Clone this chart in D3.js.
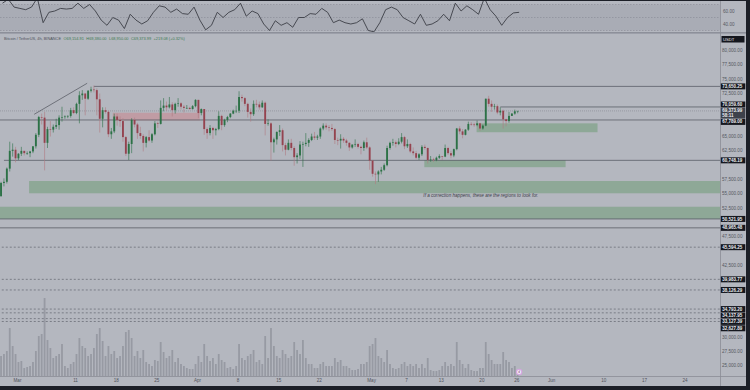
<!DOCTYPE html>
<html>
<head>
<meta charset="utf-8">
<title>Bitcoin / TetherUS 4h</title>
<style>
  body { margin: 0; background: #1c1f27; }
  svg { display: block; font-family: "Liberation Sans", Arial, sans-serif; }
</style>
</head>
<body>
<svg id="chart" width="750" height="390"></svg>
<script src="https://cdn.jsdelivr.net/npm/d3@7"></script>
<script>
// ---- data (prices in thousands USDT) ----
var candleStart = "2024-02-27T00:00:00Z";   // 12h candles
var candles = [
  [54.5,57.0,54.4,56.8],[56.8,57.6,56.2,57.0],
  [57.0,59.5,56.7,59.3],[59.3,64.0,58.8,62.4],
  [62.4,63.7,61.4,62.6],[62.6,63.1,60.4,61.1],
  [61.1,62.0,60.8,61.9],[61.9,63.1,61.5,62.4],
  [62.4,62.4,61.6,62.0],[62.0,62.3,61.7,62.0],
  [62.0,62.4,61.3,62.3],[62.3,63.2,62.0,63.2],
  [63.2,65.5,62.8,65.2],[65.2,68.5,64.8,68.3],
  [68.3,68.9,67.0,68.2],[68.2,69.2,59.0,63.8],
  [63.8,66.6,62.9,66.2],[66.2,67.6,64.9,66.1],
  [66.1,67.0,65.6,66.6],[66.6,68.0,66.2,66.9],
  [66.9,68.6,66.1,68.2],[68.2,70.1,67.5,68.3],
  [68.3,68.6,68.0,68.4],[68.4,68.6,68.1,68.5],
  [68.5,69.9,68.2,69.5],[69.5,70.0,68.8,69.0],
  [69.0,70.8,68.8,70.6],[70.6,72.8,67.2,72.1],
  [72.1,73.0,71.3,72.4],[72.4,72.5,68.6,71.5],
  [71.5,73.0,71.3,72.9],[72.9,73.6,72.6,73.1],
  [73.1,73.8,72.6,73.0],[73.0,73.3,68.6,71.4],
  [71.4,72.4,65.6,68.0],[68.0,70.0,66.5,69.5],
  [69.5,70.0,68.9,69.2],[69.2,69.4,64.8,65.3],
  [65.3,66.4,64.5,65.8],[65.8,68.9,65.5,68.4],
  [68.4,68.9,66.8,67.8],[67.8,68.4,66.6,67.6],
  [67.6,68.1,64.0,64.8],[64.8,65.0,61.5,61.9],
  [61.9,64.0,60.8,63.6],[63.6,68.1,62.0,67.8],
  [67.8,68.2,66.5,67.0],[67.0,67.3,64.5,65.5],
  [65.5,66.6,64.5,65.0],[65.0,65.3,62.3,63.8],
  [63.8,65.0,63.0,64.8],[64.8,66.0,64.0,64.2],
  [64.2,65.5,63.8,65.3],[65.3,67.6,65.1,67.2],
  [67.2,67.5,66.4,67.1],[67.1,71.2,67.0,69.9],
  [69.9,71.6,69.3,70.3],[70.3,71.0,69.4,70.0],
  [70.0,71.8,69.8,70.5],[70.5,70.9,68.4,69.5],
  [69.5,70.8,68.9,70.6],[70.6,71.6,70.1,70.7],
  [70.7,70.9,69.6,70.1],[70.1,70.4,69.1,69.9],
  [69.9,70.4,69.7,69.9],[69.9,70.1,69.6,69.7],
  [69.7,70.4,69.6,70.2],[70.2,71.4,70.0,71.3],
  [71.3,71.3,68.1,69.0],[69.0,69.8,68.6,69.7],
  [69.7,69.7,65.2,66.2],[66.2,66.5,64.5,65.5],
  [65.5,66.9,65.1,66.4],[66.4,66.6,64.5,66.0],
  [66.0,66.4,65.1,66.2],[66.2,69.3,66.0,68.5],
  [68.5,68.7,66.0,66.9],[66.9,68.0,66.6,67.8],
  [67.8,68.5,67.4,68.3],[68.3,69.0,68.1,68.9],
  [68.9,69.6,68.8,69.4],[69.4,70.3,69.0,69.4],
  [69.4,72.8,69.0,71.8],[71.8,72.2,71.0,71.6],
  [71.6,71.8,70.2,70.6],[70.6,70.8,68.2,69.2],
  [69.2,69.8,67.5,68.8],[68.8,71.2,68.5,70.6],
  [70.6,71.3,70.0,70.5],[70.5,71.0,69.6,70.0],
  [70.0,71.2,69.9,70.8],[70.8,71.0,65.1,67.1],
  [67.1,67.9,66.8,67.2],[67.2,67.4,60.7,63.9],
  [63.9,64.7,62.1,64.4],[64.4,65.8,63.5,65.7],
  [65.7,66.9,65.0,66.0],[66.0,66.3,62.3,63.4],
  [63.4,63.8,61.6,62.6],[62.6,64.4,62.5,63.8],
  [63.8,64.5,62.5,62.9],[62.9,63.2,59.8,61.3],
  [61.3,62.0,60.2,61.6],[61.6,64.1,61.0,63.5],
  [63.5,64.0,59.6,63.6],[63.6,65.5,63.2,63.8],
  [63.8,64.6,63.1,64.3],[64.3,65.4,64.1,64.9],
  [64.9,65.7,64.3,64.7],[64.7,65.2,64.3,64.9],
  [64.9,66.5,64.5,66.3],[66.3,67.2,66.0,66.8],
  [66.8,67.2,66.1,66.5],[66.5,66.9,65.8,66.4],
  [66.4,67.1,65.9,66.2],[66.2,66.4,63.6,64.3],
  [64.3,64.7,63.4,64.2],[64.2,65.3,62.8,64.5],
  [64.5,64.8,63.8,64.2],[64.2,64.5,63.3,63.8],
  [63.8,63.9,62.4,63.0],[63.0,63.5,62.8,63.5],
  [63.5,64.4,63.1,63.6],[63.6,63.8,62.8,63.1],
  [63.1,63.3,61.8,62.9],[62.9,64.2,62.4,63.9],
  [63.9,64.7,62.7,63.0],[63.0,63.2,59.1,60.7],
  [60.7,60.8,57.9,58.4],[58.4,58.8,56.6,58.3],
  [58.3,59.0,57.0,58.8],[58.8,59.6,58.3,59.1],
  [59.1,60.2,58.9,59.9],[59.9,63.3,59.7,62.9],
  [62.9,64.0,62.6,63.8],[63.8,64.5,63.3,63.9],
  [63.9,64.2,63.0,63.6],[63.6,64.6,63.4,64.0],
  [64.0,65.5,63.7,64.8],[64.8,65.0,62.7,63.2],
  [63.2,64.4,62.9,63.6],[63.6,63.8,62.0,62.3],
  [62.3,63.0,61.6,62.0],[62.0,62.4,60.9,61.2],
  [61.2,62.0,60.8,61.8],[61.8,63.4,61.5,63.1],
  [63.1,63.5,62.6,62.9],[62.9,63.0,60.2,60.8],
  [60.8,61.5,60.5,60.9],[60.9,61.2,60.5,60.8],
  [60.8,61.4,60.6,61.2],[61.2,61.8,61.0,61.5],
  [61.5,61.5,60.8,61.4],[61.4,63.5,61.3,62.9],
  [62.9,63.1,61.7,62.0],[62.0,62.4,61.1,61.6],
  [61.6,62.8,61.3,62.7],[62.7,66.4,62.5,66.3],
  [66.3,66.7,65.3,65.8],[65.8,66.2,64.6,65.2],
  [65.2,66.2,65.1,66.1],[66.1,67.5,65.9,67.1],
  [67.1,67.4,66.8,67.0],[67.0,67.3,66.6,66.9],
  [66.9,67.7,66.7,67.2],[67.2,67.3,65.9,66.3],
  [66.3,67.0,66.1,66.8],[66.8,71.5,66.7,71.5],
  [71.5,72.0,70.1,70.6],[70.6,71.2,69.2,70.1],
  [70.1,70.6,69.6,70.2],[70.2,70.5,68.8,69.1],
  [69.1,70.0,68.6,69.4],[69.4,69.6,66.3,67.9],
  [67.9,68.0,66.7,67.6],[67.6,69.2,67.3,68.5],
  [68.5,69.0,68.5,68.9],[68.9,69.6,68.7,69.3],
  [69.3,69.38,68.95,69.374]
];
var volumes = [
  20,22, 25,48, 30,22, 14,15, 8,9, 10,14, 25,40, 42,78, 36,28, 18,20,
  22,32, 10,8, 12,14, 22,38, 30,28, 20,22, 28,42, 48,35, 20,30, 22,25,
  18,20, 30,44, 46,38, 20,25, 18,26, 14,12, 10,16, 15,34, 24,18, 20,26,
  14,18, 12,10, 8,7, 7,12, 20,14, 32,20, 15,18, 12,22, 16,14, 8,9,
  7,10, 32,18, 16,20, 22,26, 14,16, 12,40, 18,48, 30,20, 18,26, 22,18,
  20,34, 26,22, 36,18, 12,12, 8,8, 12,14, 10,10, 10,18, 14,16, 10,10,
  8,6, 6,7, 12,12, 14,30, 32,38, 20,18, 14,26, 12,8, 7,8, 12,14,
  10,12, 10,12, 8,12, 8,18, 6,5, 5,6, 10,14, 10,12, 10,34, 16,12,
  8,12, 6,5, 5,8, 8,34, 22,16, 12,12, 12,24, 16,14, 8,10, 3
];
var rsiStart = "2024-02-27T12:00:00Z";      // one value per day
var rsiValues = [
  72,78,66,
  64,62,66,80,42,58,60,64,63,64,72,64,70,60,46,38,50,46,33,55,46,40,45,58,68,66,58,63,56,55,66,
  46,31,38,58,50,58,62,72,52,60,56,40,30,45,38,42,35,50,50,56,55,64,58,42,46,42,40,42,48,30,
  28,42,62,66,62,50,45,40,55,38,40,45,55,45,72,60,68,62,55,80,62,52,38,50,57,58
];
var rsiLevels = [70, 50, 30];
var rsiTicks = [60, 40];

var priceTicks = [80, 77.5, 75, 72.5, 65, 62.5, 57.5, 55, 52.5, 47.5, 42.5, 30, 27.5, 25];

var levels = [
  {price: 73.65025, from: "2024-03-14T06:00:00Z", dash: null},
  {price: 70.0596,  from: "2024-05-23T06:00:00Z", dash: null},
  {price: 67.789,   from: "2024-02-26T00:00:00Z", dash: null},
  {price: 60.74819, from: "2024-02-27T18:00:00Z", dash: null},
  {price: 50.52195, from: "2024-02-26T00:00:00Z", dash: null},
  {price: 48.96548, from: "2024-02-26T00:00:00Z", dash: null},
  {price: 45.59425, from: "2024-02-26T00:00:00Z", dash: "2,2"},
  {price: 39.98377, from: "2024-02-26T00:00:00Z", dash: "2,2"},
  {price: 38.12629, from: "2024-02-26T00:00:00Z", dash: "2,2"},
  {price: 34.7932,  from: "2024-02-26T00:00:00Z", dash: "2,2"},
  {price: 34.13795, from: "2024-02-26T00:00:00Z", dash: "2,2"},
  {price: 33.12739, from: "2024-02-26T00:00:00Z", dash: "2,2"},
  {price: 32.62789, from: "2024-02-26T00:00:00Z", dash: "2,2"}
];
var lastPrice = 69.37399;
var countdown = "58:11";

var zones = [
  {from: "2024-05-19T04:00:00Z", to: "2024-06-09T00:00:00Z", top: 67.2, bottom: 65.65, kind: "buy"},
  {from: "2024-05-10T04:00:00Z", to: "2024-06-03T12:00:00Z", top: 60.8, bottom: 59.55, kind: "buy"},
  {from: "2024-03-03T02:00:00Z", to: "2024-07-30T00:00:00Z", top: 57.14, bottom: 55.0, kind: "buy"},
  {from: "2024-02-20T00:00:00Z", to: "2024-07-30T00:00:00Z", top: 52.65, bottom: 50.52, kind: "buy"},
  {from: "2024-03-17T12:00:00Z", to: "2024-04-01T12:00:00Z", top: 69.05, bottom: 67.7, kind: "sell"}
];
var trendline = [{t: "2024-03-03T23:00:00Z", p: 68.78}, {t: "2024-03-13T02:00:00Z", p: 74.19}];
var note = {t: "2024-05-10T00:00:00Z", p: 54.7, text: "If a correction happens, these are the regions to look for."};

var dateTicks = ["2024-03-01","2024-03-11","2024-03-18","2024-03-25","2024-04-01","2024-04-08","2024-04-15",
  "2024-04-22","2024-05-01","2024-05-07","2024-05-13","2024-05-20","2024-05-26","2024-06-01","2024-06-10",
  "2024-06-17","2024-06-24"];
var dateLabels = ["Mar","11","18","25","Apr","8","15","22","May","7","13","20","26","Jun","10","17","24"];
var eventDate = "2024-05-26T12:00:00Z";

var header = "Bitcoin / TetherUS, 4h, BINANCE";
var ohlc = ["O69,154.91", "H69,380.00", "L68,950.00", "C69,373.99", "+219.08 (+0.32%)"];

// ---- layout ----
var W = 750, H = 390;
var plotRight = 720, axisRight = 746, plotBottom = 376, axisBottom = 386;
var mainTop = 34;
var bg = "#b4b7bf", up = "#2c7146", down = "#94434f";
var fmt = d3.format(",.2f");

var svg = d3.select("#chart");
svg.append("rect").attr("x", 0).attr("y", 1).attr("width", axisRight).attr("height", axisBottom - 1).attr("fill", bg);

var x = d3.scaleTime()
  .domain([new Date("2024-03-01T00:00:00Z"), new Date("2024-06-24T00:00:00Z")])
  .range([17, 684.6]);
var y = d3.scaleLinear().domain([25, 80]).range([365.2, 50]);
var vy = d3.scaleLinear().domain([0, 80]).range([plotBottom, plotBottom - 80]);
var ry = d3.scaleLinear().domain([40, 60]).range([24, 11]);

var t0 = new Date(candleStart).getTime();
var step = 12 * 3600 * 1000;
var cw = x(new Date(t0 + step)) - x(new Date(t0));

// clip for main pane
svg.append("clipPath").attr("id", "main").append("rect")
  .attr("x", 0).attr("y", mainTop).attr("width", plotRight).attr("height", plotBottom - mainTop);
svg.append("clipPath").attr("id", "rsi").append("rect")
  .attr("x", 0).attr("y", 1).attr("width", plotRight).attr("height", 31);

// ---- RSI pane ----
var rsiG = svg.append("g").attr("clip-path", "url(#rsi)");
rsiG.append("rect").attr("x", 0).attr("width", plotRight)
  .attr("y", ry(70)).attr("height", ry(30) - ry(70)).attr("fill", "#a9acb5");
rsiG.selectAll("line.lvl").data(rsiLevels).join("line")
  .attr("x1", 0).attr("x2", plotRight).attr("y1", ry).attr("y2", ry)
  .attr("stroke", "#868993").attr("stroke-width", 0.6).attr("stroke-dasharray", "1.5,1.5");
var r0 = new Date(rsiStart).getTime();
rsiG.append("path").datum(rsiValues)
  .attr("fill", "none").attr("stroke", "#3c3e46").attr("stroke-width", 0.9)
  .attr("d", d3.line().x(function (d, i) { return x(new Date(r0 + i * 2 * step)); }).y(function (d) { return ry(d); }));
svg.selectAll("text.rsitick").data(rsiTicks).join("text")
  .attr("x", 723).attr("y", ry).attr("dy", "0.35em")
  .attr("font-size", 4.6).attr("fill", "#555862")
  .text(function (d) { return d.toFixed(2); });
svg.append("rect").attr("x", 0).attr("y", 32).attr("width", axisRight).attr("height", 1.6).attr("fill", "#8d909a");

// ---- main pane ----
var g = svg.append("g").attr("clip-path", "url(#main)");

// volume
g.selectAll("rect.vol").data(volumes).join("rect")
  .attr("x", function (d, i) { return x(new Date(t0 + i * step + step / 2)) - 0.9; })
  .attr("width", 1.8)
  .attr("y", function (d) { return vy(d); })
  .attr("height", function (d) { return plotBottom - vy(d); })
  .attr("fill", "#979aa3");

// zones
g.selectAll("rect.zone").data(zones).join("rect")
  .attr("x", function (d) { return x(new Date(d.from)); })
  .attr("width", function (d) { return x(new Date(d.to)) - x(new Date(d.from)); })
  .attr("y", function (d) { return y(d.top); })
  .attr("height", function (d) { return y(d.bottom) - y(d.top); })
  .attr("fill", function (d) { return d.kind === "buy" ? "#8ea897" : "#c09ca4"; });

// level lines
g.selectAll("line.level").data(levels).join("line")
  .attr("x1", function (d) { return x(new Date(d.from)); }).attr("x2", plotRight)
  .attr("y1", function (d) { return y(d.price); }).attr("y2", function (d) { return y(d.price); })
  .attr("stroke", function (d) { return d.dash ? "#6c6f78" : "#5b5e67"; })
  .attr("stroke-width", 0.8)
  .attr("stroke-dasharray", function (d) { return d.dash; });

// current price line
g.append("line").attr("x1", 0).attr("x2", plotRight).attr("y1", y(lastPrice)).attr("y2", y(lastPrice))
  .attr("stroke", "#8c8f98").attr("stroke-width", 0.7).attr("stroke-dasharray", "1,1");

// trendline
g.append("line")
  .attr("x1", x(new Date(trendline[0].t))).attr("y1", y(trendline[0].p))
  .attr("x2", x(new Date(trendline[1].t))).attr("y2", y(trendline[1].p))
  .attr("stroke", "#50535c").attr("stroke-width", 0.7);

// candles
var cg = g.selectAll("g.candle").data(candles).join("g");
cg.append("line")
  .attr("x1", function (d, i) { return x(new Date(t0 + i * step + step / 2)); })
  .attr("x2", function (d, i) { return x(new Date(t0 + i * step + step / 2)); })
  .attr("y1", function (d) { return y(d[1]); }).attr("y2", function (d) { return y(d[2]); })
  .attr("stroke", function (d) { return d[3] >= d[0] ? up : "#b07a82"; }).attr("stroke-width", 0.6);
cg.append("rect")
  .attr("x", function (d, i) { return x(new Date(t0 + i * step + step / 2)) - cw * 0.32; })
  .attr("width", cw * 0.64)
  .attr("y", function (d) { return y(Math.max(d[0], d[3])); })
  .attr("height", function (d) { return Math.max(0.6, Math.abs(y(d[0]) - y(d[3]))); })
  .attr("fill", function (d) { return d[3] >= d[0] ? up : down; });

// note
g.append("text").attr("x", x(new Date(note.t))).attr("y", y(note.p)).attr("dy", "0.35em")
  .attr("font-size", 4.6).attr("font-style", "italic").attr("fill", "#3d4049").text(note.text);

// header
var ht = svg.append("text").attr("x", 4).attr("y", 40).attr("font-size", 3.9).attr("fill", "#4f525b");
ht.append("tspan").text(header);
ht.selectAll("tspan.v").data(ohlc).join("tspan").attr("dx", 2.5).attr("fill", "#3f7a52").text(function (d) { return d; });

// ---- axes ----
svg.append("line").attr("x1", plotRight + 0.5).attr("x2", plotRight + 0.5).attr("y1", 1).attr("y2", axisBottom)
  .attr("stroke", "#8a8d96").attr("stroke-width", 0.8);
svg.append("line").attr("x1", 0).attr("x2", axisRight).attr("y1", plotBottom + 0.5).attr("y2", plotBottom + 0.5)
  .attr("stroke", "#8a8d96").attr("stroke-width", 0.8);

var yAxis = svg.append("g").attr("transform", "translate(" + (plotRight + 2) + ",0)")
  .call(d3.axisRight(y).tickValues(priceTicks).tickSize(0).tickPadding(0)
    .tickFormat(function (d) { return fmt(d * 1000); }));
yAxis.select(".domain").remove();
yAxis.selectAll("text").attr("font-size", 4.6).attr("fill", "#555862").attr("font-family", "Liberation Sans, Arial");

var xAxis = svg.append("g").attr("transform", "translate(0," + plotBottom + ")")
  .call(d3.axisBottom(x).tickValues(dateTicks.map(function (d) { return new Date(d + "T00:00:00Z"); }))
    .tickSize(0).tickPadding(3)
    .tickFormat(function (d, i) { return dateLabels[i]; }));
xAxis.select(".domain").remove();
xAxis.selectAll("text").attr("font-size", 4.6).attr("fill", "#50535c").attr("font-family", "Liberation Sans, Arial");

// USDT badge
svg.append("rect").attr("x", 721.5).attr("y", 36).attr("width", 23).attr("height", 6.5).attr("fill", "#15171e");
svg.append("text").attr("x", 723).attr("y", 39.3).attr("dy", "0.35em").attr("font-size", 4.2)
  .attr("fill", "#e8e9ec").text("USDT");

// price badges: last price badge fixed, others pushed away from it
var bh = 6, gap = 0.4;
var cur = {price: lastPrice, top: y(lastPrice) - 3, h: 10.6, fill: "#3d414b", lines: [fmt(lastPrice * 1000), countdown]};
var others = levels.map(function (d) { return {price: d.price, h: bh, fill: "#15171e", lines: [fmt(d.price * 1000)]}; });
others.forEach(function (b) { b.top = y(b.price) - bh / 2; });
var above = others.filter(function (b) { return b.price > lastPrice; }).sort(function (a, b) { return b.top - a.top; });
var below = others.filter(function (b) { return b.price <= lastPrice; }).sort(function (a, b) { return a.top - b.top; });
var limit = cur.top;
above.forEach(function (b) { if (b.top + b.h + gap > limit) b.top = limit - gap - b.h; limit = b.top; });
limit = cur.top + cur.h;
below.forEach(function (b) { if (b.top < limit + gap) b.top = limit + gap; limit = b.top + b.h; });
var badges = above.concat([cur], below);

var bg2 = svg.selectAll("g.badge").data(badges).join("g");
bg2.append("rect").attr("x", 720.8).attr("width", 24.5)
  .attr("y", function (d) { return d.top; }).attr("height", function (d) { return d.h; })
  .attr("fill", function (d) { return d.fill; });
bg2.each(function (d) {
  var sel = d3.select(this);
  d.lines.forEach(function (s, j) {
    sel.append("text").attr("x", 722.3)
      .attr("y", d.top + 3 + j * 5).attr("dy", "0.35em")
      .attr("font-size", 4.5).attr("font-weight", "bold").attr("fill", "#eceef2").text(s);
  });
});

// event marker on time axis
var ex = x(new Date(eventDate));
svg.append("circle").attr("cx", ex).attr("cy", 372).attr("r", 3.2).attr("fill", "#d6a6e0");
svg.append("circle").attr("cx", ex).attr("cy", 372).attr("r", 2.1).attr("fill", "#f4eef6");
svg.append("text").attr("x", ex).attr("y", 372).attr("dy", "0.35em").attr("text-anchor", "middle")
  .attr("font-size", 3).attr("fill", "#6a3f75").text("d");

// dark frame
svg.append("rect").attr("x", 0).attr("y", 0).attr("width", W).attr("height", 1).attr("fill", "#1c1f27");
</script>
</body>
</html>
